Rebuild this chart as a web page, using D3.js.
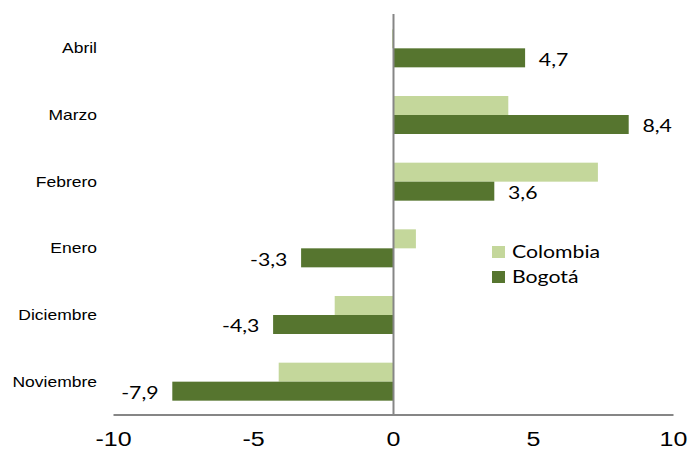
<!DOCTYPE html>
<html>
<head>
<meta charset="utf-8">
<script src="https://cdn.jsdelivr.net/npm/d3@7"></script>
<style>
  html, body { margin: 0; padding: 0; background: #fff; }
  svg { display: block; }
</style>
</head>
<body>
<div id="chart"></div>
<script>
var months = ['Abril', 'Marzo', 'Febrero', 'Enero', 'Diciembre', 'Noviembre'];
var series_names = ['Colombia', 'Bogotá'];
var colombia = [-0.05, 4.1, 7.3, 0.8, -2.1, -4.1];
var bogota = [4.7, 8.4, 3.6, -3.3, -4.3, -7.9];
var x_ticks = [-10, -5, 0, 5, 10];

var colors = { 'Colombia': '#c4d79b', 'Bogotá': '#56752f' };

// the picture is stretched sideways, so draw in a narrower box and let it stretch
var STRETCH = 1.25;
var W = 689, H = 450;
var VW = W / STRETCH;

var svg = d3.select('#chart').append('svg')
	.attr('width', W)
	.attr('height', H)
	.attr('viewBox', '0 0 ' + VW + ' ' + H)
	.attr('preserveAspectRatio', 'none');

var x = d3.scaleLinear()
	.domain([-10, 10])
	.range([113.5 / STRETCH, 673.5 / STRETCH]);

var y = d3.scaleBand()
	.domain(months)
	.range([15, 415])
	.paddingInner(0.43)
	.paddingOuter(0.215);

var y_sub = d3.scaleBand()
	.domain(series_names)
	.range([0, y.bandwidth()]);

var rows = months.map(function(m, i) {
	return { month: m, values: [
		{ name: 'Colombia', value: colombia[i] },
		{ name: 'Bogotá', value: bogota[i] }
	] };
});

// comma decimals and a plain hyphen for the minus sign
var locale = d3.formatLocale({ decimal: ',', thousands: '.', grouping: [3], currency: ['', ''], minus: '-' });
var fmt = locale.format('.1f');

// bars
var groups = svg.append('g').attr('id', 'bars')
	.selectAll('g')
	.data(rows)
	.enter()
	.append('g')
		.attr('transform', function(d) { return 'translate(0,' + y(d.month) + ')'; });

groups.selectAll('rect')
	.data(function(d) { return d.values; })
	.enter()
	.append('rect')
		.attr('x', function(d) { return x(Math.min(0, d.value)); })
		.attr('y', function(d) { return y_sub(d.name); })
		.attr('width', function(d) { return Math.abs(x(d.value) - x(0)); })
		.attr('height', y_sub.bandwidth())
		.attr('fill', function(d) { return colors[d.name]; });

// value labels, Bogotá only
groups.append('text')
	.datum(function(d) { return d.values[1]; })
	.attr('x', function(d) { return d.value >= 0 ? x(d.value) + 11 : x(d.value) - 11; })
	.attr('y', function(d) { return y_sub(d.name) + y_sub.bandwidth() / 2 + 2; })
	.attr('dy', '0.35em')
	.attr('text-anchor', function(d) { return d.value >= 0 ? 'start' : 'end'; })
	.attr('font-family', 'Lato, "Open Sans", sans-serif')
	.attr('font-size', 17)
	.attr('fill', '#000')
	.text(function(d) { return fmt(d.value); });

// axes lines
var axis_color = '#868686';
svg.append('line')
	.attr('x1', x(-10)).attr('x2', x(10))
	.attr('y1', 415).attr('y2', 415)
	.attr('stroke', axis_color).attr('stroke-width', 2);

svg.append('line')
	.attr('x1', x(0)).attr('x2', x(0))
	.attr('y1', 14).attr('y2', 415)
	.attr('stroke', axis_color).attr('stroke-width', 1.6);

// x tick labels
svg.append('g').selectAll('text')
	.data(x_ticks)
	.enter()
	.append('text')
		.attr('x', function(d) { return x(d); })
		.attr('y', 446)
		.attr('text-anchor', 'middle')
		.attr('font-family', '"Liberation Sans", Arial, sans-serif')
		.attr('font-size', 20)
		.attr('fill', '#000')
		.text(function(d) { return d; });

// category labels
svg.append('g').selectAll('text')
	.data(months)
	.enter()
	.append('text')
		.attr('x', 97 / STRETCH)
		.attr('y', function(d) { return y(d) + y.bandwidth() / 2; })
		.attr('dy', '0.35em')
		.attr('text-anchor', 'end')
		.attr('font-family', '"Liberation Sans", Arial, sans-serif')
		.attr('font-size', 14)
		.attr('fill', '#000')
		.text(function(d) { return d; });

// legend
var legend = svg.append('g')
	.attr('transform', 'translate(' + (492 / STRETCH) + ',246)');

var items = legend.selectAll('g')
	.data(series_names)
	.enter()
	.append('g')
		.attr('transform', function(d, i) { return 'translate(0,' + (i * 25) + ')'; });

items.append('rect')
	.attr('width', 13 / STRETCH)
	.attr('height', 12)
	.attr('fill', function(d) { return colors[d]; });

items.append('text')
	.attr('x', 20 / STRETCH)
	.attr('y', 6)
	.attr('dy', '0.35em')
	.attr('font-family', 'Lato, "Open Sans", sans-serif')
	.attr('font-size', 17)
	.attr('fill', '#000')
	.text(function(d) { return d; });
</script>
</body>
</html>
